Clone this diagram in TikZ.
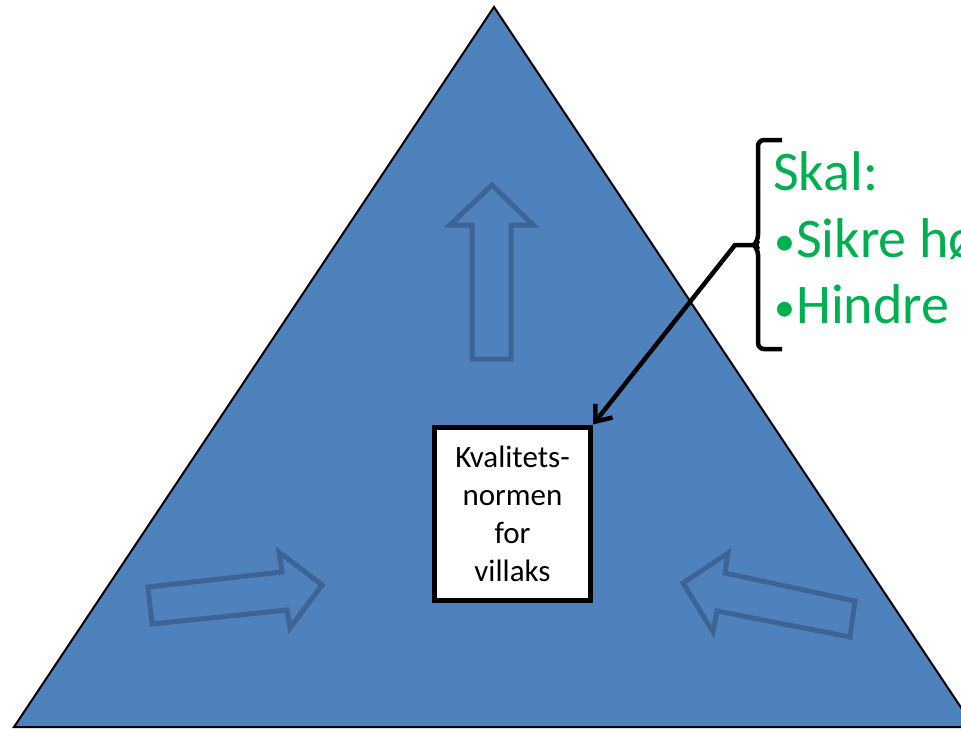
\documentclass[tikz,border=0pt]{standalone}
\usepackage{fontspec}
\setmainfont{Carlito}
\usetikzlibrary{arrows.meta}
\definecolor{triblue}{HTML}{4F81BD}
\definecolor{arrcol}{RGB}{62,100,150}
\definecolor{skalgreen}{HTML}{00B050}
\newcommand{\smallbul}{{\fontsize{42}{67}\selectfont\raisebox{2pt}{•}}\hspace{1pt}}
\tikzset{
  bigarrow/.style={draw=arrcol, line width=5pt, line join=miter},
  greentext/.style={text=skalgreen, inner sep=0pt, anchor=base west, font=\fontsize{56}{67}\selectfont},
  connector/.style={line width=4.5pt, -{Straight Barb[length=14pt,width=22pt]}},
}
\begin{document}
\begin{tikzpicture}[x=1pt,y=-1pt]
\useasboundingbox (0,0) rectangle (961,729);
% triangle
\draw[fill=triblue, line width=2pt, line join=miter] (494,7) -- (14,727) -- (974,727) -- cycle;
% block arrows
\draw[bigarrow] (492,185) -- (533,225) -- (511,225) -- (511,359) -- (472,359) -- (472,225) -- (450,225) -- cycle;
\draw[bigarrow] (148,587) -- (282,572) -- (279,552) -- (322,585) -- (290,628) -- (287,610) -- (152,624) -- cycle;
\draw[bigarrow] (683,583) -- (728,553) -- (725,573) -- (855,601) -- (850,637) -- (717,611) -- (713,632) -- cycle;
% box
\node[draw, fill=white, line width=5pt, minimum width=156pt, minimum height=173pt, inner sep=0pt,
      align=center, font=\fontsize{31}{38}\selectfont] (box) at (512.5,513.5)
      {Kvalitets-\\normen\\for\\villaks};
% green text
\node[greentext] (skal) at (773,190) {Skal:};
\node[greentext] (sikre) at (774,257) {\smallbul Sikre høy};
\node[greentext] (hindre) at (774,323) {\smallbul Hindre};
% bracket
\coordinate (bracemid) at (753,245);
\coordinate (elbow) at (735,245);
\draw[line width=4.5pt, rounded corners=6pt] (782,140) -- (758,140) -- (758,241) -- (754,245) -- (758,249) -- (758,349) -- (782,349);
% connector
\draw[connector] (bracemid) -- (elbow) -- (box.north east);
\end{tikzpicture}
\end{document}
